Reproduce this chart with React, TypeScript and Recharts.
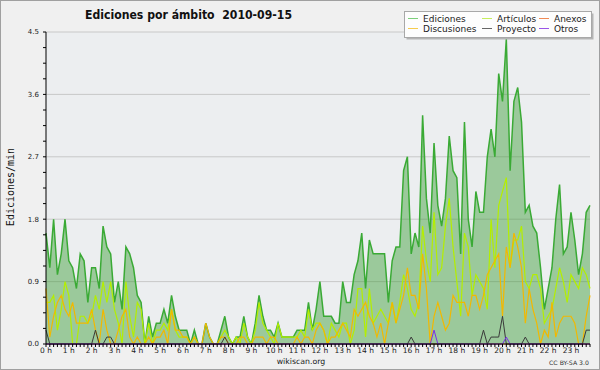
import React from "react";
import { Area, CartesianGrid, ComposedChart, Line, XAxis, YAxis } from "recharts";

// 10-minute slots, 6 per hour, 2010-09-15
const hourLabels = [
  "0 h", "1 h", "2 h", "3 h", "4 h", "5 h", "6 h", "7 h", "8 h", "9 h", "10 h", "11 h",
  "12 h", "13 h", "14 h", "15 h", "16 h", "17 h", "18 h", "19 h", "20 h", "21 h", "22 h", "23 h",
];

const yLabelValues = [0, 0.9, 1.8, 2.7, 3.6, 4.5];

// edits per minute, one row per hour
const ediciones = [
  1.6, 1.1, 1.8, 1.0, 1.3, 1.8,
  1.2, 1.1, 0.8, 1.3, 1.2, 0.6,
  1.1, 1.1, 0.8, 1.7, 1.4, 1.3,
  0.6, 0.9, 0.5, 1.4, 1.3, 1.1,
  0.7, 0.6, 0.0, 0.4, 0.1, 0.3,
  0.3, 0.5, 0.3, 0.7, 0.4, 0.2,
  0.2, 0.2, 0.0, 0.2, 0.0, 0.0,
  0.3, 0.1, 0.0, 0.0, 0.2, 0.4,
  0.1, 0.0, 0.1, 0.1, 0.4, 0.1,
  0.0, 0.3, 0.7, 0.4, 0.2, 0.2,
  0.1, 0.3, 0.1, 0.1, 0.1, 0.1,
  0.2, 0.2, 0.2, 0.6, 0.2, 0.5,
  0.9, 0.4, 0.4, 0.4, 0.3, 0.3,
  0.9, 0.6, 0.6, 1.0, 1.2, 1.6,
  0.8, 1.5, 1.3, 1.3, 1.3, 1.3,
  0.6, 1.2, 1.4, 1.4, 2.5, 2.7,
  1.3, 1.6, 1.4, 3.3, 2.1, 1.6,
  2.9, 2.0, 1.7, 2.1, 3.0, 2.5,
  2.4, 1.3, 3.2, 1.8, 1.4, 2.2,
  1.9, 1.9, 2.7, 3.1, 2.7, 3.9,
  3.5, 4.4, 2.5, 3.5, 3.7, 3.2,
  1.9, 2.0, 1.7, 1.6, 1.1, 0.5,
  0.8, 1.1, 1.8, 2.3, 1.3, 1.4,
  1.9, 1.5, 1.0, 1.3, 1.9, 2.0,
];

const articulos = [
  0.6, 0.6, 0.7, 0.2, 0.5, 0.9,
  0.7, 0.0, 0.0, 0.4, 0.4, 0.3,
  0.4, 0.7, 0.5, 0.9, 0.6, 0.9,
  0.5, 0.3, 0.0, 0.9, 0.4, 0.1,
  0.6, 0.5, 0.0, 0.3, 0.0, 0.2,
  0.2, 0.3, 0.2, 0.5, 0.2, 0.1,
  0.1, 0.1, 0.0, 0.1, 0.0, 0.0,
  0.0, 0.0, 0.0, 0.0, 0.1, 0.2,
  0.1, 0.0, 0.1, 0.0, 0.3, 0.1,
  0.0, 0.2, 0.6, 0.3, 0.2, 0.1,
  0.0, 0.3, 0.1, 0.1, 0.1, 0.1,
  0.1, 0.2, 0.1, 0.5, 0.2, 0.3,
  0.3, 0.2, 0.0, 0.3, 0.2, 0.1,
  0.3, 0.3, 0.0, 0.2, 0.8, 0.8,
  0.1, 0.8, 0.3, 0.4, 0.5, 0.4,
  0.3, 0.6, 0.3, 0.6, 1.0, 0.8,
  0.5, 0.4, 0.6, 1.7, 1.2, 0.9,
  1.9, 1.0, 1.1, 1.7, 2.1, 1.4,
  0.9, 0.4, 1.6, 1.4, 0.7, 1.0,
  0.9, 0.8, 0.5, 1.8, 1.1, 2.0,
  2.2, 2.4, 1.1, 1.5, 1.5, 1.7,
  0.9, 0.8, 1.0, 1.0, 0.8, 0.3,
  0.4, 0.5, 0.8, 1.1, 0.9, 0.6,
  1.0, 0.9, 0.8, 1.1, 1.0, 0.8,
];

const discusiones = [
  0.8, 0.1, 0.4, 0.6, 0.7, 0.5,
  0.4, 0.6, 0.3, 0.3, 0.3, 0.3,
  0.5, 0.2, 0.0, 0.5, 0.2, 0.0,
  0.0, 0.2, 0.4, 0.5, 0.1, 0.0,
  0.1, 0.0, 0.0, 0.1, 0.0, 0.1,
  0.1, 0.2, 0.0, 0.5, 0.2, 0.2,
  0.1, 0.1, 0.0, 0.1, 0.0, 0.0,
  0.3, 0.1, 0.0, 0.0, 0.1, 0.1,
  0.0, 0.0, 0.0, 0.1, 0.1, 0.0,
  0.0, 0.1, 0.1, 0.1, 0.0, 0.1,
  0.1, 0.0, 0.0, 0.0, 0.0, 0.0,
  0.1, 0.0, 0.1, 0.1, 0.0, 0.2,
  0.3, 0.2, 0.0, 0.1, 0.1, 0.2,
  0.3, 0.2, 0.1, 0.5, 0.4, 0.5,
  0.6, 0.4, 0.3, 0.1, 0.3, 0.0,
  0.3, 0.6, 0.3, 0.5, 0.7, 1.1,
  0.7, 0.7, 0.5, 1.3, 0.8, 0.0,
  0.4, 0.6, 0.4, 0.2, 0.3, 0.7,
  0.6, 0.6, 0.6, 0.4, 0.7, 0.7,
  0.5, 0.7, 1.0, 1.1, 1.2, 1.3,
  0.4, 1.4, 1.1, 1.6, 1.4, 1.1,
  0.3, 0.8, 0.5, 0.3, 0.0, 0.2,
  0.1, 0.6, 0.1, 0.3, 0.4, 0.4,
  0.4, 0.3, 0.0, 0.0, 0.4, 0.7,
];

const anexos = new Array(144).fill(0);

const proyecto = [
  0.2, 0, 0, 0, 0, 0,
  0, 0, 0, 0, 0, 0,
  0, 0.2, 0, 0, 0.1, 0.1,
  0, 0, 0, 0, 0, 0,
  0, 0, 0, 0, 0, 0,
  0, 0, 0, 0, 0, 0,
  0, 0, 0, 0, 0, 0,
  0, 0, 0, 0, 0, 0.1,
  0, 0, 0, 0, 0, 0,
  0, 0, 0, 0, 0, 0,
  0, 0, 0, 0, 0, 0,
  0, 0, 0, 0, 0, 0,
  0, 0, 0, 0, 0, 0,
  0, 0, 0, 0, 0, 0,
  0, 0, 0, 0, 0, 0,
  0, 0, 0, 0, 0, 0,
  0.1, 0, 0, 0, 0, 0,
  0, 0, 0, 0, 0, 0,
  0, 0, 0, 0, 0, 0,
  0, 0.2, 0, 0.1, 0.1, 0.1,
  0.4, 0, 0, 0, 0, 0,
  0.1, 0, 0, 0, 0, 0,
  0, 0, 0, 0, 0, 0,
  0, 0, 0, 0, 0.2, 0.2,
];

const otros = [
  0, 0, 0, 0, 0, 0, 0, 0, 0, 0, 0, 0, 0, 0, 0, 0, 0, 0, 0, 0, 0, 0, 0, 0,
  0, 0, 0, 0, 0, 0, 0, 0, 0, 0, 0, 0, 0, 0, 0, 0, 0, 0, 0, 0, 0, 0, 0, 0,
  0, 0, 0, 0, 0, 0, 0, 0, 0, 0, 0, 0, 0, 0, 0, 0, 0, 0, 0, 0, 0, 0, 0, 0,
  0, 0, 0, 0, 0, 0, 0, 0, 0, 0, 0, 0, 0, 0, 0, 0, 0, 0, 0, 0, 0, 0, 0, 0,
  0, 0, 0, 0, 0, 0, 0.2, 0, 0, 0, 0, 0, 0, 0, 0, 0, 0, 0, 0, 0, 0, 0, 0, 0,
  0, 0.1, 0, 0, 0, 0, 0, 0, 0, 0, 0, 0, 0, 0, 0, 0, 0, 0, 0, 0, 0, 0, 0, 0,
];

const C = {
  ediciones: "#3aaa35",
  articulos: "#b4ee00",
  anexos: "#f07a3a",
  discusiones: "#f2b800",
  proyecto: "#3a3a3a",
  otros: "#7a2ee8",
};

const slots = ediciones.map((_, i) => i);
const yTicks = Array.from({ length: 21 }, (_, k) => Math.round(k * 225) / 1000);

const data = slots.map((i) => ({
  slot: i,
  ediciones: ediciones[i],
  articulos: articulos[i],
  discusiones: discusiones[i],
  anexos: anexos[i],
  proyecto: proyecto[i],
  otros: otros[i],
}));

const legendItems = [
  { name: "Ediciones", color: "#7ccf7a", x: 408, y: 22 },
  { name: "Artículos", color: "#c6ee5c", x: 482, y: 22 },
  { name: "Anexos", color: "#f08a55", x: 539, y: 22 },
  { name: "Discusiones", color: "#f6cc4c", x: 408, y: 32 },
  { name: "Proyecto", color: "#666666", x: 482, y: 32 },
  { name: "Otros", color: "#9a55e8", x: 539, y: 32 },
];

const fmtY = (v: number) => {
  const hit = yLabelValues.find((l) => Math.abs(l - v) < 1e-6);
  return hit === undefined ? "" : hit.toFixed(1);
};

export default function App() {
  return (
    <div style={{ position: "absolute", left: 0, top: 0, width: 600, height: 370, background: "#f0f0f0" }}>
      <ComposedChart width={600} height={370} data={data} margin={{ top: 32, right: 10, bottom: 0, left: 0 }}>
        <CartesianGrid fill="#eceef0" vertical={false} horizontalValues={[0.9, 1.8, 2.7, 3.6, 4.5]} stroke="#c8c8c8" />
        <Area
          type="linear"
          dataKey="ediciones"
          stroke={C.ediciones}
          strokeWidth={1.5}
          fill="#3a9c34"
          fillOpacity={0.45}
          dot={false}
          activeDot={false}
          isAnimationActive={false}
        />
        <Line type="linear" dataKey="articulos" stroke={C.articulos} strokeWidth={1.2} dot={false} activeDot={false} isAnimationActive={false} />
        <Line type="linear" dataKey="discusiones" stroke={C.discusiones} strokeWidth={1.2} dot={false} activeDot={false} isAnimationActive={false} />
        <Line type="linear" dataKey="anexos" stroke={C.anexos} strokeWidth={1} dot={false} activeDot={false} isAnimationActive={false} />
        <Line type="linear" dataKey="proyecto" stroke={C.proyecto} strokeWidth={1} dot={false} activeDot={false} isAnimationActive={false} />
        <Line type="linear" dataKey="otros" stroke={C.otros} strokeWidth={1} dot={false} activeDot={false} isAnimationActive={false} />
        <XAxis
          type="number"
          dataKey="slot"
          domain={[0, 143]}
          ticks={slots}
          interval={0}
          tickFormatter={(v: number) => (v % 6 === 0 ? hourLabels[v / 6] : "")}
          tickSize={3}
          tickMargin={1}
          height={26}
          stroke="#000"
          tick={{ fontSize: 7.5, fill: "#222", fontFamily: "DejaVu Sans" }}
        />
        <YAxis
          type="number"
          domain={[0, 4.5]}
          ticks={yTicks}
          interval={0}
          tickFormatter={fmtY}
          tickSize={3}
          tickMargin={4}
          width={46}
          stroke="#000"
          tick={{ fontSize: 7, fill: "#222", fontFamily: "DejaVu Sans" }}
        />
      </ComposedChart>

      <svg width={600} height={370} style={{ position: "absolute", left: 0, top: 0, pointerEvents: "none" }}>
        <rect x={0.5} y={0.5} width={599} height={369} fill="none" stroke="#a0a0a0" />
        <text
          x={85}
          y={18.5}
          textLength={207}
          lengthAdjust="spacingAndGlyphs"
          fontFamily="DejaVu Sans"
          fontWeight="bold"
          fontSize={12.5}
          fill="#111"
          style={{ whiteSpace: "pre" }}
        >
          {"Ediciones por ámbito  2010-09-15"}
        </text>
        <text
          transform="translate(13.5,187) rotate(-90)"
          textAnchor="middle"
          fontFamily="DejaVu Sans Mono"
          fontSize={10}
          fill="#111"
        >
          Ediciones/min
        </text>
        <rect x={406.5} y={13.5} width={187} height={26} fill="#b4b4b4" />
        <rect x={404.5} y={11.5} width={187} height={26} fill="#fdfdfd" stroke="#a8a8a8" />
        {legendItems.map((it) => (
          <g key={it.name}>
            <line x1={it.x} x2={it.x + 10} y1={it.y - 3.5} y2={it.y - 3.5} stroke={it.color} strokeWidth={1} />
            <text x={it.x + 15} y={it.y} fontFamily="DejaVu Sans" fontSize={9} fill="#222">
              {it.name}
            </text>
          </g>
        ))}
        <text x={301} y={364} textAnchor="middle" fontFamily="DejaVu Sans" fontSize={7.8} fill="#222">
          wikiscan.org
        </text>
        <text x={549} y={365} textLength={40} lengthAdjust="spacingAndGlyphs" fontFamily="DejaVu Sans" fontSize={6} fill="#333">
          CC BY-SA 3.0
        </text>
      </svg>
    </div>
  );
}
